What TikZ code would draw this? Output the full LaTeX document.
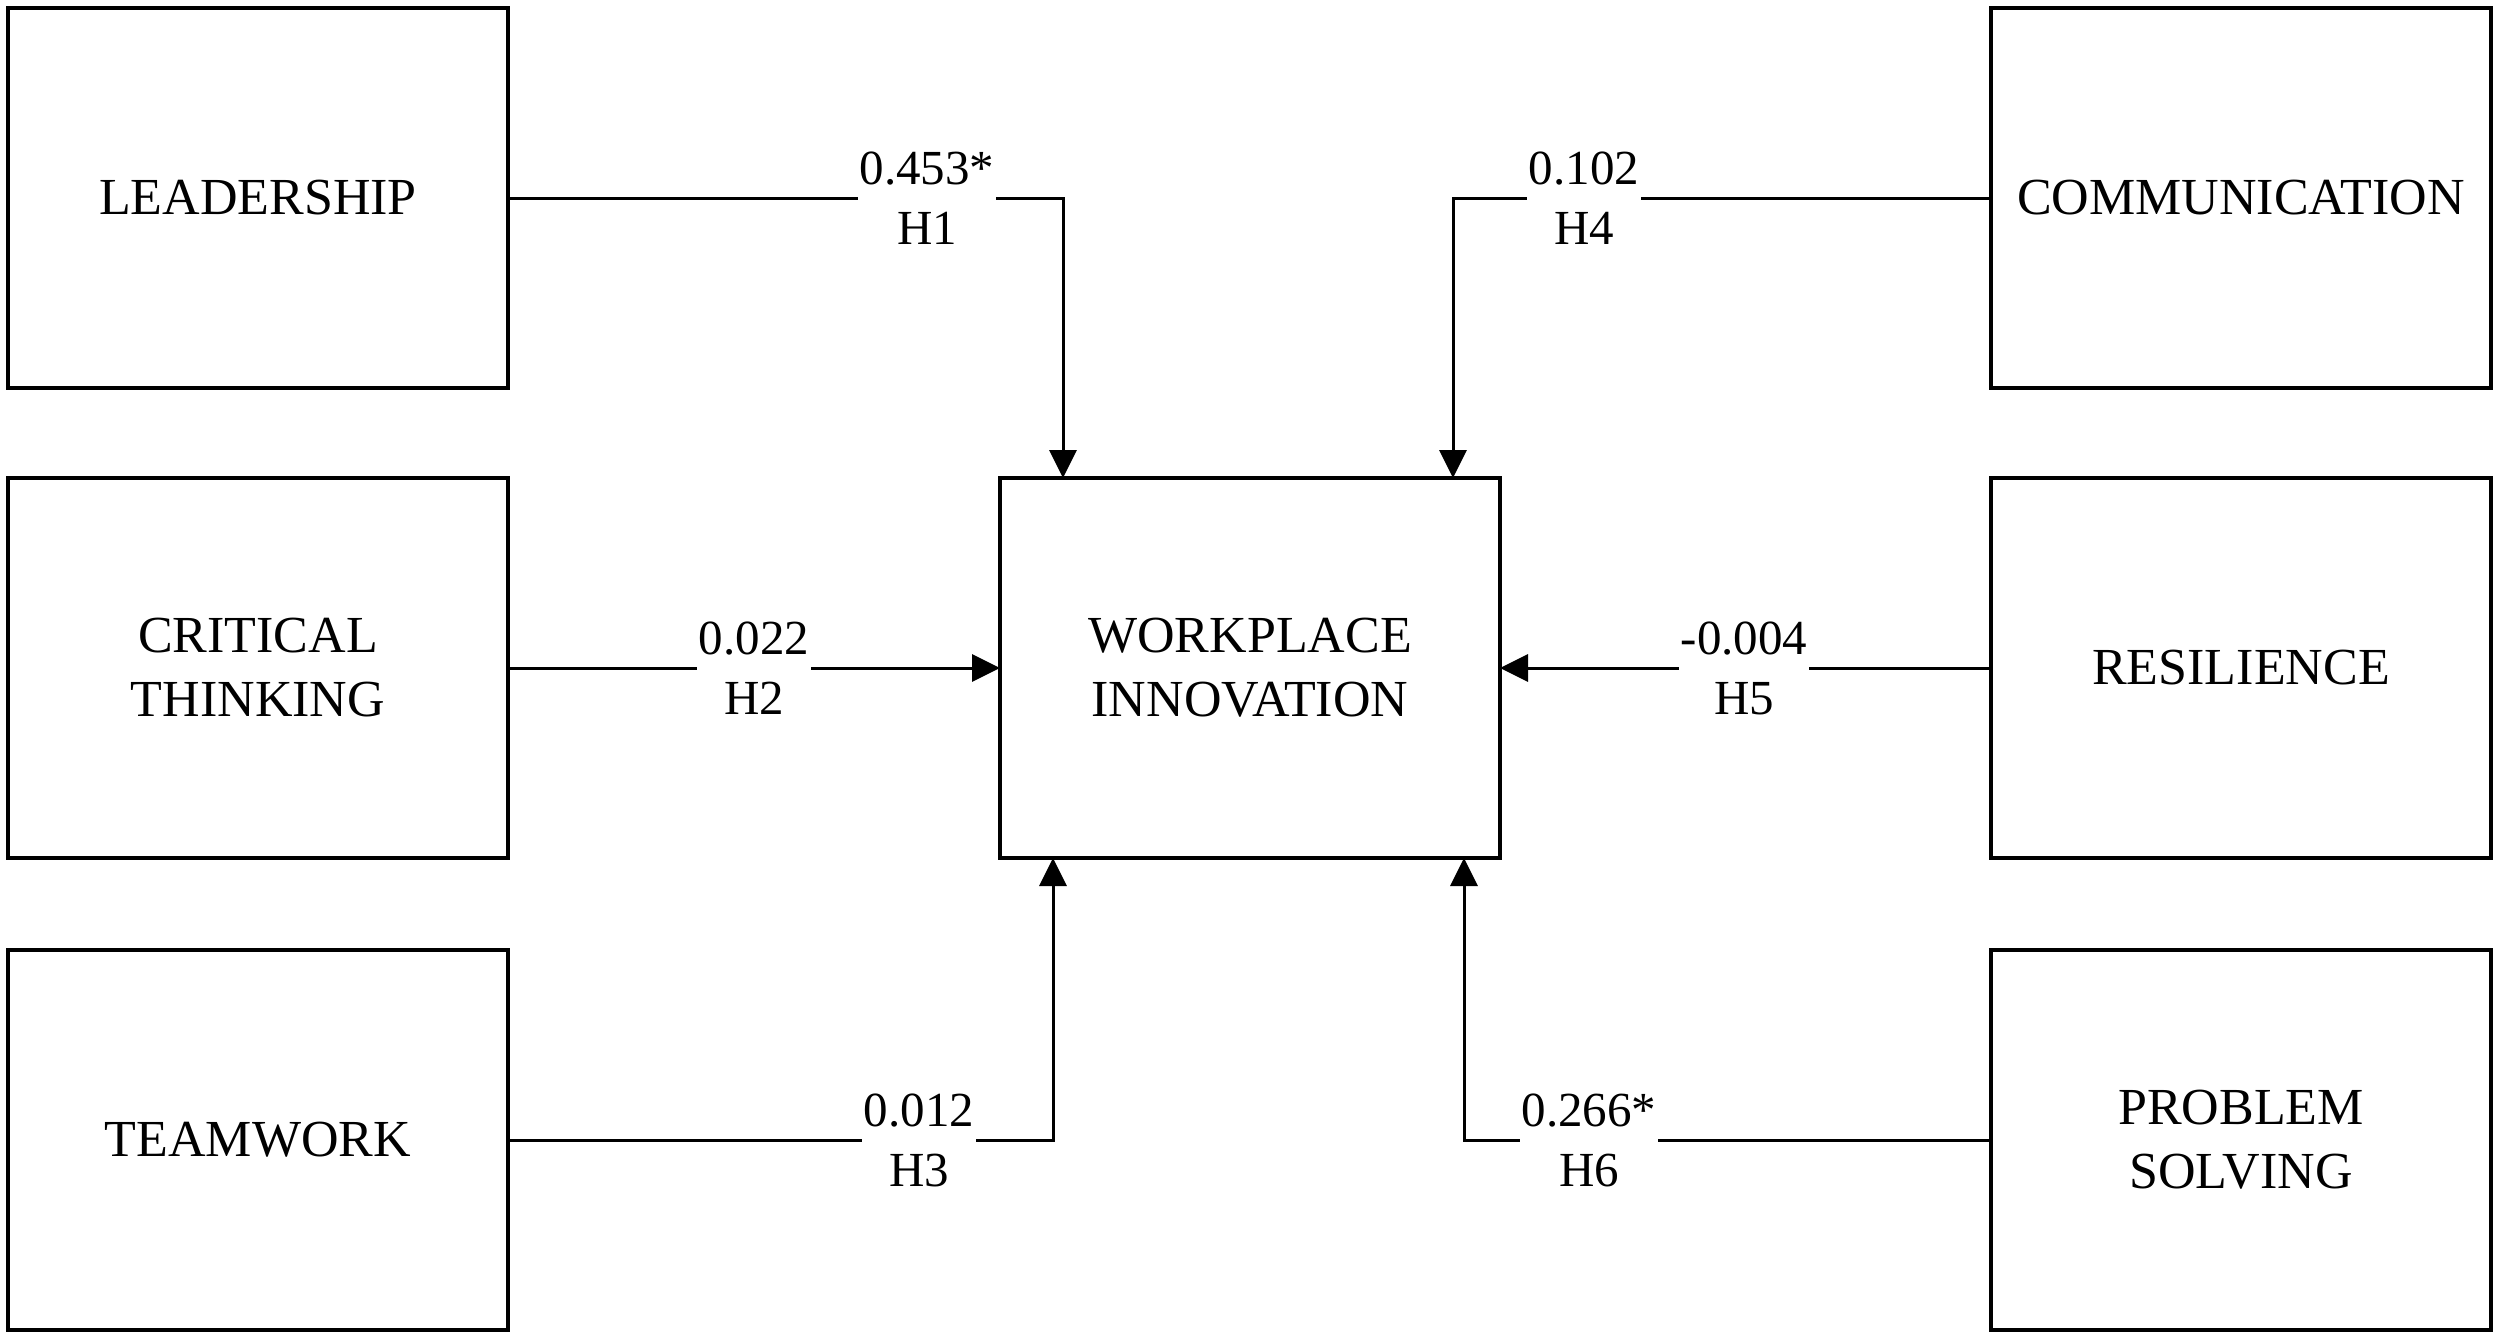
\documentclass[tikz,border=0pt]{standalone}
\usepackage{fontspec}
\setmainfont{Liberation Serif}
\usetikzlibrary{arrows.meta}
\begin{document}
\begin{tikzpicture}[x=1pt,y=-1pt,
 box/.style={draw=black, line width=3.5pt, minimum width=500pt, minimum height=380pt, inner sep=0pt, outer sep=0pt, align=center, font=\fontsize{52}{64}\selectfont},
 conn/.style={draw=black, line width=3pt, -{Triangle[width=27pt,length=28pt]}},
 lbl/.style={fill=white, inner xsep=2pt, inner ysep=4pt, align=center, font=\fontsize{49}{60}\selectfont}]
\useasboundingbox (0,0) rectangle (2500,1338);
\fill[white] (0,0) rectangle (2500,1338);
\node[box] (lead) at (258,198) {LEADERSHIP};
\node[box] (crit) at (258,668) {CRITICAL\\THINKING};
\node[box] (team) at (258,1140) {TEAMWORK};
\node[box] (wi) at (1250,668) {WORKPLACE\\INNOVATION};
\node[box] (comm) at (2241,198) {COMMUNICATION};
\node[box] (res) at (2241,668) {RESILIENCE};
\node[box] (ps) at (2241,1140) {PROBLEM\\SOLVING};
\draw[conn] (lead.east) -| ([xshift=63pt]wi.north west);
\draw[conn] (comm.west) -| ([xshift=-47pt]wi.north east);
\draw[conn] (crit.east) -- (wi.west);
\draw[conn] (res.west) -- (wi.east);
\draw[conn] (team.east) -| ([xshift=53pt]wi.south west);
\draw[conn] (ps.west) -| ([xshift=-36pt]wi.south east);
\node[lbl] (l1) at (927,198) {0.453*\\H1};
\node[lbl] (l4) at (1584,198) {0.102\\H4};
\node[lbl] (l2) at (754,668) {0.022\\H2};
\node[lbl] (l5) at (1744,668) {-0.004\\H5};
\node[lbl] (l3) at (919,1140) {0.012\\H3};
\node[lbl] (l6) at (1589,1140) {0.266*\\H6};
\end{tikzpicture}
\end{document}
